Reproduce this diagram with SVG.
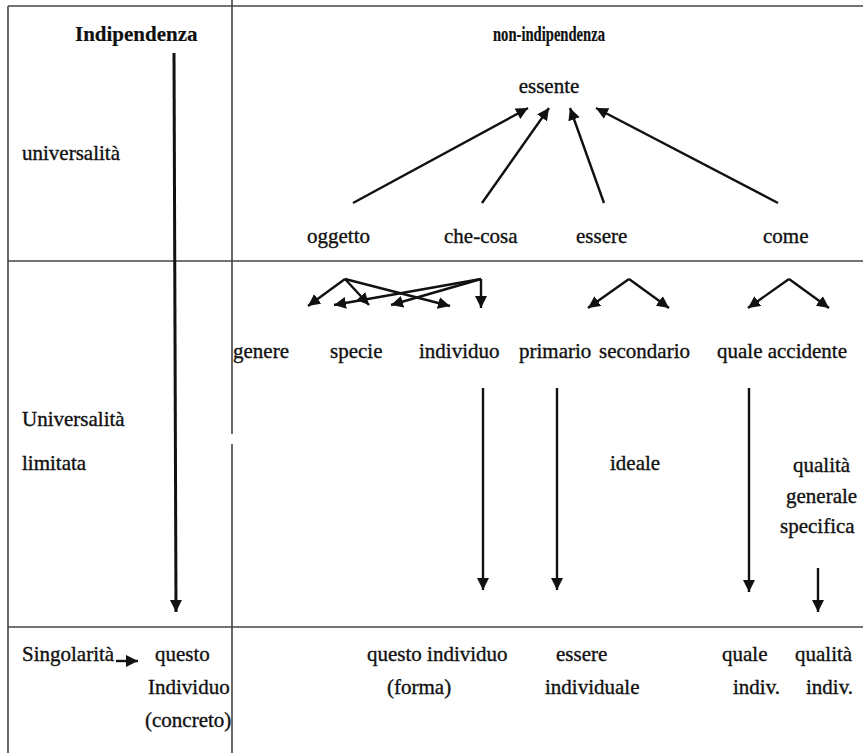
<svg xmlns="http://www.w3.org/2000/svg" width="863" height="753" viewBox="0 0 863 753">
<style>
text{font-family:"Liberation Serif","Times New Roman",serif;font-size:21px;fill:#111;stroke:#111;stroke-width:0.35;}
.b{font-weight:bold;stroke-width:0.2;}
.grid line{stroke:#444;stroke-width:1.6;}
.arr line{stroke:#111;stroke-width:2.4;marker-end:url(#ah);}
</style>
<defs>
<marker id="ah" markerUnits="userSpaceOnUse" markerWidth="14" markerHeight="14" refX="12" refY="6" orient="auto">
<path d="M0,0 L12,6 L0,12 Z" fill="#111"/>
</marker>
</defs>
<rect width="863" height="753" fill="#fff"/>
<g class="grid" id="table">
<line x1="8" y1="6" x2="863" y2="6"/>
<line x1="8" y1="6" x2="8" y2="753"/>
<line x1="232" y1="0" x2="232" y2="434"/>
<line x1="232" y1="444" x2="232" y2="753"/>
<line x1="8" y1="261" x2="863" y2="261"/>
<line x1="8" y1="627" x2="863" y2="627"/>
</g>
<g id="connectors" class="arr">
<line x1="174" y1="53" x2="176" y2="612" style="stroke-width:3"/>
<line x1="353" y1="203" x2="528" y2="108"/>
<line x1="482" y1="203" x2="549" y2="108"/>
<line x1="604" y1="203" x2="570" y2="108"/>
<line x1="778" y1="203" x2="596" y2="108"/>
<line x1="345" y1="279" x2="308" y2="306"/>
<line x1="345" y1="279" x2="369" y2="305"/>
<line x1="345" y1="279" x2="450" y2="306"/>
<line x1="481" y1="279" x2="334" y2="305"/>
<line x1="481" y1="279" x2="391" y2="305"/>
<line x1="481" y1="279" x2="481" y2="308"/>
<line x1="629" y1="279" x2="588" y2="308"/>
<line x1="629" y1="279" x2="669" y2="308"/>
<line x1="789" y1="279" x2="748" y2="308"/>
<line x1="789" y1="279" x2="829" y2="308"/>
<line x1="483" y1="388" x2="483" y2="590"/>
<line x1="557" y1="388" x2="557" y2="590"/>
<line x1="749" y1="388" x2="749" y2="592"/>
<line x1="818" y1="568" x2="818" y2="612"/>
<line x1="116" y1="661" x2="138" y2="661"/>
</g>
<g id="labels">
<text class="b" x="75" y="41">Indipendenza</text>
<text class="b" x="493" y="41" style="font-size:20px" textLength="112" lengthAdjust="spacingAndGlyphs">non-indipendenza</text>
<text id="essente" x="549" y="93" text-anchor="middle">essente</text>
<text x="22" y="160">universalità</text>
<text id="oggetto" x="307" y="243">oggetto</text>
<text id="checosa" x="444" y="243">che-cosa</text>
<text id="essere" x="576" y="243">essere</text>
<text id="come" x="763" y="243">come</text>
<text id="genere" x="233" y="358">genere</text>
<text id="specie" x="330" y="358">specie</text>
<text id="individuo" x="419" y="358">individuo</text>
<text id="primario" x="519" y="358">primario</text>
<text id="secondario" x="599" y="358">secondario</text>
<text id="quale" x="717" y="358">quale accidente</text>
<text x="22" y="426">Universalità</text>
<text x="22" y="470">limitata</text>
<text id="ideale" x="610" y="470">ideale</text>
<text x="793" y="472">qualità</text>
<text x="786" y="503">generale</text>
<text x="780" y="533">specifica</text>
<text x="22" y="661">Singolarità</text>
<text x="155" y="661">questo</text>
<text x="148" y="694">Individuo</text>
<text x="145" y="727">(concreto)</text>
<text x="367" y="661">questo individuo</text>
<text x="387" y="694">(forma)</text>
<text x="556" y="661">essere</text>
<text x="545" y="694">individuale</text>
<text x="722" y="661">quale</text>
<text x="733" y="694">indiv.</text>
<text x="795" y="661">qualità</text>
<text x="806" y="694">indiv.</text>
</g>
</svg>
